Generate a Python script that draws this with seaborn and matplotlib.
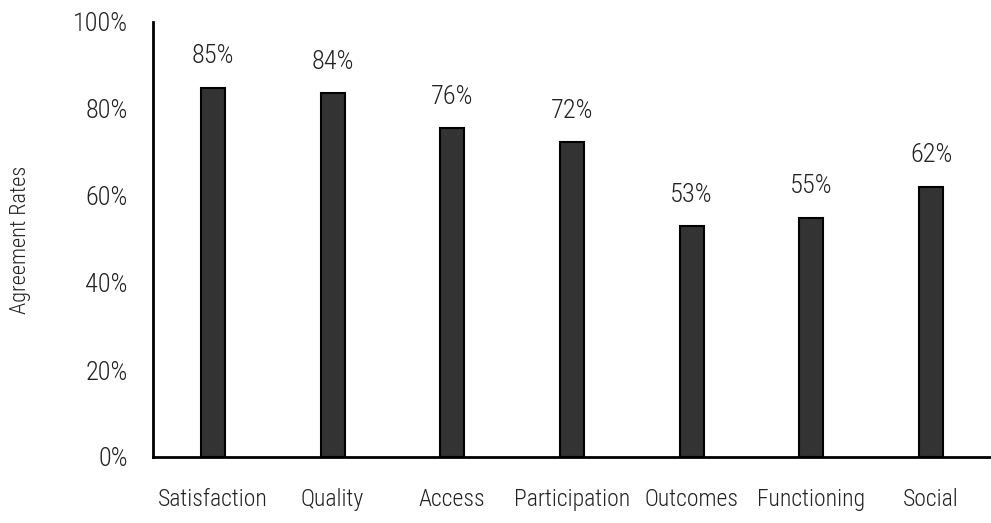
import matplotlib
matplotlib.use("Agg")
import matplotlib.pyplot as plt
import seaborn as sns
import pandas as pd
from matplotlib import font_manager
from matplotlib.font_manager import FontProperties

categories = ["Satisfaction", "Quality", "Access", "Participation", "Outcomes", "Functioning", "Social"]
values = [84.9, 83.6, 75.6, 72.4, 53.1, 55.0, 62.1]
labels = ["85%", "84%", "76%", "72%", "53%", "55%", "62%"]
yticks = [0, 20, 40, 60, 80, 100]
ytick_labels = ["0%", "20%", "40%", "60%", "80%", "100%"]

sns.set_theme(style="white")
plt.rcParams["font.family"] = ["DejaVu Sans"]

# look for a condensed / narrow font file, light weight preferred
def is_cond(f):
    low = f.fname.lower()
    return ("condensed" in low or "narrow" in low or
            f.stretch in ("condensed", "semi-condensed", "extra-condensed"))
cands = [f for f in font_manager.fontManager.ttflist
         if is_cond(f) and "italic" not in f.fname.lower() and "oblique" not in f.fname.lower()]
def rank(f):
    low = f.fname.lower().split("/")[-1]
    w = f.weight if isinstance(f.weight, int) else 400
    if "extralight" in low or "thin" in low:
        w = 200
    wscore = {300: 0, 400: 1}.get(w, 5)
    fam = 0 if "roboto" in low else 1
    return (wscore, fam)
cands.sort(key=rank)
if cands:
    fname = cands[0].fname
    fp = FontProperties(fname=fname, size=19)
    fp_x = FontProperties(fname=fname, size=17)
    fp_lab = FontProperties(fname=fname, size=16)
else:
    fp = FontProperties(family="DejaVu Sans", size=15)
    fp_x = FontProperties(family="DejaVu Sans", size=13)
    fp_lab = FontProperties(family="DejaVu Sans", size=12)

df = pd.DataFrame({"category": categories, "value": values})

fig = plt.figure(figsize=(9.91, 5.23), dpi=100)
ax = fig.add_axes([153/991, 66/523, 838/991, 435/523])
sns.barplot(data=df, x="category", y="value", color="#333333", width=0.2,
            edgecolor="black", linewidth=1.5, saturation=1, ax=ax)

for i, (v, lab) in enumerate(zip(values, labels)):
    ax.annotate(lab, (i, v), xytext=(0, 14), textcoords="offset points",
                ha="center", va="bottom", fontproperties=fp, color="#222222")

ax.set_xlim(-0.5, 6.5)
ax.set_ylim(0, 100)
ax.set_yticks(yticks)
ax.set_yticklabels(ytick_labels, fontproperties=fp, color="#222222")
ax.set_xticks(range(len(categories)))
ax.set_xticklabels(categories, fontproperties=fp_x, color="#222222")
ax.tick_params(axis="x", pad=22, length=0)
ax.tick_params(axis="y", pad=18, length=0)
ax.set_xlabel("")
ax.set_ylabel("Agreement Rates", fontproperties=fp_lab, color="#222222")
ax.yaxis.set_label_coords(-0.145, 0.5)
for s in ["top", "right"]:
    ax.spines[s].set_visible(False)
for s in ["left", "bottom"]:
    ax.spines[s].set_color("black")
    ax.spines[s].set_linewidth(2)

fig.savefig("out.png", dpi=100)
